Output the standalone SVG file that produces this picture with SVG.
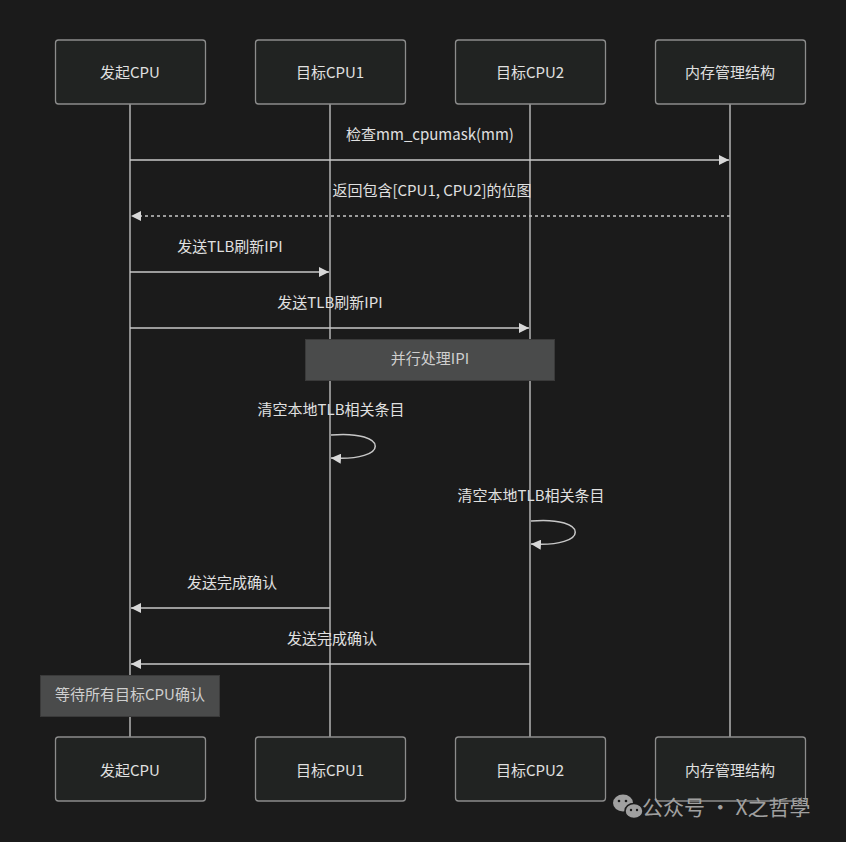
<svg xmlns="http://www.w3.org/2000/svg" width="846" height="842" viewBox="0 0 846 842">
<defs>
<style>
.bg{fill:#1b1b1b}
.actor rect{fill:#212322;stroke:#8c8c8c;stroke-width:1.3}
.actor text,.lbl{font-family:"Noto Sans CJK SC","Liberation Sans",sans-serif;font-size:15px;fill:#e0e0e0;text-anchor:middle}
.life{stroke:#b4b4b4;stroke-width:1.5;fill:none}
.msg{stroke:#c8c8c8;stroke-width:1.5;fill:none}
.dash{stroke-dasharray:3,3}
.note rect{fill:#4a4b4b;stroke:#3a3a3a;stroke-width:1}
.note text{font-family:"Noto Sans CJK SC","Liberation Sans",sans-serif;font-size:15px;fill:#cfcfcf;text-anchor:middle}
.wm{font-family:"Noto Sans CJK SC","Liberation Sans",sans-serif;font-size:21px;fill:#a0a0a0}
</style>
<marker id="ah" markerWidth="10" markerHeight="10" refX="10" refY="5" orient="auto" markerUnits="userSpaceOnUse">
<path d="M0,0 L10,5 L0,10 Z" fill="#d8d8d8"/>
</marker>
</defs>
<rect class="bg" x="0" y="0" width="846" height="842"/>
<g id="lifelines">
<line class="life" x1="130" y1="104" x2="130" y2="737"/>
<line class="life" x1="330" y1="104" x2="330" y2="737"/>
<line class="life" x1="530" y1="104" x2="530" y2="737"/>
<line class="life" x1="730" y1="104" x2="730" y2="737"/>
</g>
<g id="actor-initiator-top" class="actor"><rect x="55.5" y="40" width="150" height="64" rx="3"/><text x="130" y="78">发起CPU</text></g>
<g id="actor-cpu1-top" class="actor"><rect x="255.5" y="40" width="150" height="64" rx="3"/><text x="330" y="78">目标CPU1</text></g>
<g id="actor-cpu2-top" class="actor"><rect x="455.5" y="40" width="150" height="64" rx="3"/><text x="530" y="78">目标CPU2</text></g>
<g id="actor-mm-top" class="actor"><rect x="655.5" y="40" width="150" height="64" rx="3"/><text x="730" y="78">内存管理结构</text></g>
<g id="actor-initiator-bottom" class="actor"><rect x="55.5" y="737" width="150" height="64" rx="3"/><text x="130" y="776">发起CPU</text></g>
<g id="actor-cpu1-bottom" class="actor"><rect x="255.5" y="737" width="150" height="64" rx="3"/><text x="330" y="776">目标CPU1</text></g>
<g id="actor-cpu2-bottom" class="actor"><rect x="455.5" y="737" width="150" height="64" rx="3"/><text x="530" y="776">目标CPU2</text></g>
<g id="actor-mm-bottom" class="actor"><rect x="655.5" y="737" width="150" height="64" rx="3"/><text x="730" y="776">内存管理结构</text></g>
<g id="note-parallel" class="note"><rect x="305.5" y="339.5" width="249" height="41"/><text x="430" y="364">并行处理IPI</text></g>
<g id="note-wait" class="note"><rect x="40.5" y="675.5" width="179" height="41"/><text x="130" y="700">等待所有目标CPU确认</text></g>
<g id="connectors">
<line class="msg" x1="130" y1="160" x2="729" y2="160" marker-end="url(#ah)"/>
<text class="lbl" x="430" y="140">检查mm_cpumask(mm)</text>
<line class="msg dash" x1="730" y1="216" x2="131" y2="216" marker-end="url(#ah)"/>
<text class="lbl" x="432" y="196">返回包含[CPU1, CPU2]的位图</text>
<line class="msg" x1="130" y1="272" x2="329" y2="272" marker-end="url(#ah)"/>
<text class="lbl" x="230" y="252">发送TLB刷新IPI</text>
<line class="msg" x1="130" y1="328" x2="529" y2="328" marker-end="url(#ah)"/>
<text class="lbl" x="330" y="308">发送TLB刷新IPI</text>
<path class="msg" d="M331,435 C390,430 390,462 331,458" marker-end="url(#ah)"/>
<text class="lbl" x="331" y="415">清空本地TLB相关条目</text>
<path class="msg" d="M531,521 C590,516 590,548 531,544" marker-end="url(#ah)"/>
<text class="lbl" x="531" y="501">清空本地TLB相关条目</text>
<line class="msg" x1="330" y1="608" x2="131" y2="608" marker-end="url(#ah)"/>
<text class="lbl" x="232" y="588">发送完成确认</text>
<line class="msg" x1="530" y1="664" x2="131" y2="664" marker-end="url(#ah)"/>
<text class="lbl" x="332" y="644">发送完成确认</text>
</g>
<g id="watermark">
<ellipse cx="623" cy="803" rx="10" ry="8.5" fill="#a0a0a0"/>
<ellipse cx="634" cy="811" rx="9" ry="7.5" fill="#a0a0a0" stroke="#1b1b1b" stroke-width="1.5"/>
<circle cx="619" cy="801" r="1.3" fill="#1b1b1b"/><circle cx="626" cy="801" r="1.3" fill="#1b1b1b"/>
<circle cx="631" cy="810" r="1.2" fill="#1b1b1b"/><circle cx="637" cy="810" r="1.2" fill="#1b1b1b"/>
<text class="wm" x="642" y="815">公众号 · X之哲學</text>
</g>
</svg>
